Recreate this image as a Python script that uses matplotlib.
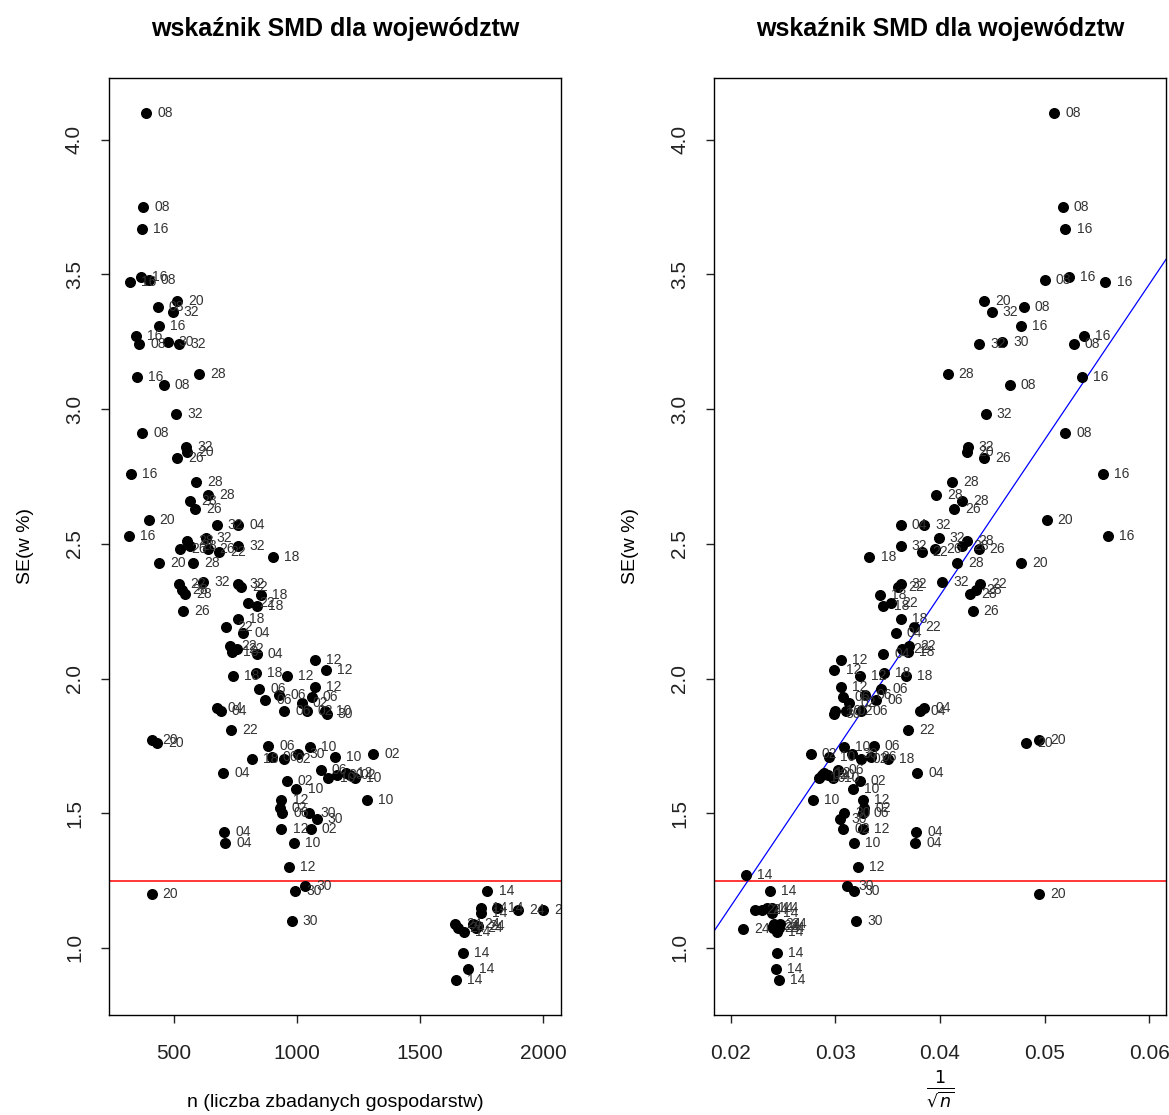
import numpy as np
import matplotlib
matplotlib.use('Agg')
import matplotlib.pyplot as plt

plt.rcParams['font.family'] = ['Liberation Sans', 'DejaVu Sans']

# liczba zbadanych gospodarstw, SE (w %), kod wojewodztwa
n = [386, 374, 370, 365, 321, 400, 434, 512, 495, 439, 346, 359, 474, 522,
     348, 459, 603, 508, 370, 550, 552, 511, 324, 590, 637, 564, 585, 397,
     674, 761, 318, 552, 629, 524, 565, 639, 684, 761, 904, 439, 578, 521,
     619, 531, 545, 761, 774, 538, 852, 802, 836, 761, 711, 782, 728, 734,
     755, 836, 1073, 1118, 741, 833, 958, 1073, 847, 928, 870, 1059, 1019,
     674, 690, 948, 1039, 1115, 1120, 732, 883, 897, 947, 1005, 1053, 1155,
     1309, 816, 1096, 1128, 1164, 1199, 1215, 1236, 958, 998, 1285, 937, 931,
     941, 1050, 1080, 1056, 937, 988, 969, 1033, 992, 978, 409, 430, 700, 703,
     707, 409, 1774, 1747, 1747, 1811, 1900, 2001, 1642, 1656, 1679, 1717,
     1728, 1737, 1673, 1696, 1646, 2175, 2235]
se = [4.10, 3.75, 3.67, 3.49, 3.47, 3.48, 3.38, 3.40, 3.36, 3.31, 3.27, 3.24,
      3.25, 3.24, 3.12, 3.09, 3.13, 2.98, 2.91, 2.86, 2.84, 2.82, 2.76, 2.73,
      2.68, 2.66, 2.63, 2.59, 2.57, 2.57, 2.53, 2.51, 2.52, 2.48, 2.49, 2.48,
      2.47, 2.49, 2.45, 2.43, 2.43, 2.35, 2.36, 2.33, 2.315, 2.35, 2.34, 2.25,
      2.31, 2.28, 2.27, 2.22, 2.19, 2.17, 2.12, 2.10, 2.11, 2.09, 2.07, 2.03,
      2.01, 2.02, 2.01, 1.97, 1.96, 1.94, 1.92, 1.93, 1.91, 1.89, 1.88, 1.88,
      1.88, 1.88, 1.87, 1.81, 1.75, 1.71, 1.70, 1.72, 1.745, 1.71, 1.72, 1.70,
      1.66, 1.63, 1.64, 1.65, 1.64, 1.63, 1.62, 1.59, 1.55, 1.55, 1.52, 1.50,
      1.50, 1.48, 1.44, 1.44, 1.39, 1.30, 1.23, 1.21, 1.10, 1.77, 1.76, 1.65,
      1.43, 1.39, 1.20, 1.21, 1.15, 1.13, 1.15, 1.14, 1.14, 1.09, 1.075, 1.06,
      1.09, 1.075, 1.08, 0.98, 0.92, 0.88, 1.27, 1.07]
woj = ['08', '08', '16', '16', '16', '08', '08', '20', '32', '16', '16', '08',
       '30', '32', '16', '08', '28', '32', '08', '32', '20', '26', '16', '28',
       '28', '28', '26', '20', '32', '04', '16', '28', '32', '26', '28', '26',
       '22', '32', '18', '20', '28', '22', '32', '28', '28', '32', '22', '26',
       '18', '22', '18', '18', '22', '04', '22', '18', '22', '04', '12', '12',
       '18', '18', '12', '12', '06', '06', '06', '06', '02', '04', '04', '06',
       '02', '10', '30', '22', '06', '06', '02', '30', '10', '10', '02', '18',
       '06', '10', '30', '12', '02', '10', '02', '10', '10', '12', '02', '06',
       '30', '30', '02', '12', '10', '12', '30', '30', '30', '20', '20', '04',
       '04', '04', '20', '14', '14', '14', '14', '24', '24', '24', '24', '14',
       '24', '24', '24', '14', '14', '14', '14', '24']

n = np.array(n, dtype=float)
se = np.array(se)
x_inv = 1 / np.sqrt(n)

# prosta regresji przez poczatek ukladu
slope = np.sum(x_inv * se) / np.sum(x_inv ** 2)

fig = plt.figure(figsize=(11.69, 11.15), dpi=100)
ax1 = fig.add_axes([109 / 1169, 100 / 1115, 452 / 1169, 937 / 1115])
ax2 = fig.add_axes([714 / 1169, 100 / 1115, 452 / 1169, 937 / 1115])

def panel(ax, xv, xlim, xticks, xticklabels):
    ax.scatter(xv, se, s=48, c='black', zorder=3, clip_on=True)
    for xi, yi, lab in zip(xv, se, woj):
        ax.annotate(lab, (xi, yi), xytext=(8, 0), textcoords='offset points',
                    ha='left', va='center', fontsize=10, color='#333333',
                    clip_on=True, annotation_clip=True)
    ax.axhline(1.25, color='red', lw=1.1, zorder=2)
    ax.set_xlim(xlim)
    ax.set_ylim(0.751, 4.229)
    ax.set_xticks(xticks)
    ax.set_xticklabels(xticklabels)
    ax.set_yticks([1.0, 1.5, 2.0, 2.5, 3.0, 3.5, 4.0])
    ax.set_yticklabels(['1.0', '1.5', '2.0', '2.5', '3.0', '3.5', '4.0'],
                       rotation=90, va='center')
    ax.tick_params(direction='out', length=6, width=1, labelsize=15,
                   colors='#222222')
    ax.tick_params(axis='x', pad=15)
    ax.tick_params(axis='y', pad=12)
    for sp in ax.spines.values():
        sp.set_linewidth(1)
    ax.set_title('wskaźnik SMD dla województw', fontsize=18, fontweight='bold',
                 pad=30)
    ax.set_ylabel('SE(w %)', fontsize=14, labelpad=22)

panel(ax1, n, (236, 2073), [500, 1000, 1500, 2000],
      ['500', '1000', '1500', '2000'])
ax1.set_xlabel('n (liczba zbadanych gospodarstw)', fontsize=14, labelpad=22)

panel(ax2, x_inv, (0.0184, 0.0616), [0.02, 0.03, 0.04, 0.05, 0.06],
      ['0.02', '0.03', '0.04', '0.05', '0.06'])
xx = np.array([0.0, 0.07])
ax2.plot(xx, slope * xx, color='blue', lw=0.9, zorder=2)
ax2.set_xlabel(r'$\frac{1}{\sqrt{n}}$', fontsize=18, labelpad=4)

fig.savefig('out.png', dpi=100)
